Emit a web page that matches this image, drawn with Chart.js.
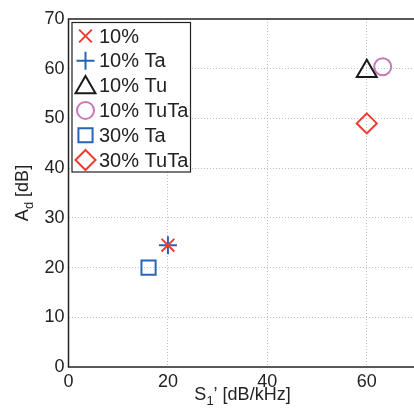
<!DOCTYPE html>
<html>
<head>
<meta charset="utf-8">
<script src="https://cdn.jsdelivr.net/npm/chart.js@4/dist/chart.umd.min.js"></script>
<style>
  html, body { margin: 0; padding: 0; background: #fff; overflow: hidden; }
  #wrap { width: 414px; height: 412px; overflow: hidden; }
</style>
</head>
<body>
<div id="wrap"><canvas id="chart" width="418" height="412"></canvas></div>
<script>
// data
const seriesLabels = ['10%', '10% Ta', '10% Tu', '10% TuTa', '30% Ta', '30% TuTa'];
const xValues = [20, 20, 60, 63.2, 16.1, 60];
const yValues = [24.5, 24.5, 59.5, 60.4, 20, 49];
const xTicks = [0, 20, 40, 60];
const yTicks = [0, 10, 20, 30, 40, 50, 60, 70];

const markerStyles = ['crossRot', 'cross', 'triangle', 'circle', 'rect', 'rectRot'];
const markerColors = ['#ee3b2e', '#2b64b4', '#1a1a1a', '#c77ab9', '#2b64b4', '#ee3b2e'];
const markerSizes = [9, 9, 11.5, 8.5, 10, 10];

const FONT = 'Liberation Sans, Arial, Helvetica, sans-serif';

const datasets = seriesLabels.map((lbl, i) => ({
  label: lbl,
  data: [{ x: xValues[i], y: yValues[i] }],
  pointStyle: markerStyles[i],
  pointRadius: markerSizes[i],
  pointHoverRadius: markerSizes[i],
  pointBorderColor: markerColors[i],
  pointBackgroundColor: 'rgba(0,0,0,0)',
  pointBorderWidth: 2,
  showLine: false
}));

// frame, axis titles and the legend box
const decor = {
  id: 'decor',
  afterDraw(chart) {
    const ctx = chart.ctx;
    const a = chart.chartArea;
    ctx.save();
    ctx.strokeStyle = '#222';
    ctx.lineWidth = 1.5;
    ctx.strokeRect(a.left, a.top, a.right - a.left, a.bottom - a.top);

    ctx.fillStyle = '#222';
    // x title: S_1' [dB/kHz]
    ctx.textBaseline = 'alphabetic';
    const s1 = 'S', sub1 = '1', s2 = '\u2019 [dB/kHz]';
    ctx.font = '18px ' + FONT;
    const w1 = ctx.measureText(s1).width, w3 = ctx.measureText(s2).width;
    ctx.font = '13px ' + FONT;
    const w2 = ctx.measureText(sub1).width;
    let x0 = (a.left + a.right) / 2 - (w1 + w2 + w3) / 2;
    const by = 400;
    ctx.font = '18px ' + FONT;
    ctx.fillText(s1, x0, by);
    ctx.font = '13px ' + FONT;
    ctx.fillText(sub1, x0 + w1, by + 5);
    ctx.font = '18px ' + FONT;
    ctx.fillText(s2, x0 + w1 + w2, by);

    // y title: A_d [dB]
    ctx.save();
    ctx.translate(28, (a.top + a.bottom) / 2);
    ctx.rotate(-Math.PI / 2);
    const t1 = 'A', tsub = 'd', t2 = ' [dB]';
    ctx.font = '18px ' + FONT;
    const u1 = ctx.measureText(t1).width, u3 = ctx.measureText(t2).width;
    ctx.font = '13px ' + FONT;
    const u2 = ctx.measureText(tsub).width;
    let y0 = -(u1 + u2 + u3) / 2;
    ctx.font = '18px ' + FONT;
    ctx.fillText(t1, y0, 0);
    ctx.font = '13px ' + FONT;
    ctx.fillText(tsub, y0 + u1, 5);
    ctx.font = '18px ' + FONT;
    ctx.fillText(t2, y0 + u1 + u2, 0);
    ctx.restore();

    // legend
    const lx = 72, ly = 22.5, lw = 118.5, lh = 149.5;
    ctx.fillStyle = '#fff';
    ctx.fillRect(lx, ly, lw, lh);
    ctx.strokeStyle = '#222';
    ctx.lineWidth = 1.2;
    ctx.strokeRect(lx, ly, lw, lh);
    ctx.font = '20px ' + FONT;
    ctx.textBaseline = 'middle';
    chart.data.datasets.forEach((ds, i) => {
      const cy = 36 + i * 24.8;
      ctx.strokeStyle = markerColors[i];
      ctx.fillStyle = 'rgba(0,0,0,0)';
      ctx.lineWidth = 2;
      Chart.helpers.drawPoint(ctx, {
        pointStyle: markerStyles[i],
        radius: markerSizes[i],
        rotation: 0,
        borderWidth: 2
      }, 85.5, cy + (markerStyles[i] === 'triangle' ? 2 : 0));
      ctx.fillStyle = '#222';
      ctx.fillText(ds.label, 99, cy + 1);
    });
    ctx.restore();
  }
};

const gridColor = ctx => (ctx.tick && (ctx.tick.value === 0 || ctx.tick.value === 70)) ? 'rgba(0,0,0,0)' : '#bdbdbd';

new Chart(document.getElementById('chart'), {
  type: 'scatter',
  data: { datasets: datasets },
  options: {
    responsive: false,
    animation: false,
    devicePixelRatio: 1,
    layout: { autoPadding: false, padding: { top: 19, right: 1.5, left: 0, bottom: 0 } },
    plugins: { legend: { display: false }, tooltip: { enabled: false } },
    scales: {
      x: {
        type: 'linear',
        min: 0, max: 70,
        afterBuildTicks: s => { s.ticks = xTicks.map(v => ({ value: v })); },
        afterFit: s => { s.height = 45; s.paddingLeft = 0; s.paddingRight = 0; },
        border: { display: false, dash: [1, 2] },
        grid: { color: gridColor, lineWidth: 1, drawTicks: false },
        ticks: { padding: 4, color: '#222', font: { family: FONT, size: 18 } }
      },
      y: {
        type: 'linear',
        min: 0, max: 70,
        afterBuildTicks: s => { s.ticks = yTicks.map(v => ({ value: v })); },
        afterFit: s => { s.width = 68.5; s.paddingTop = 0; s.paddingBottom = 0; },
        border: { display: false, dash: [1, 2] },
        grid: { color: gridColor, lineWidth: 1, drawTicks: false },
        ticks: { padding: 4, color: '#222', font: { family: FONT, size: 18 } }
      }
    }
  },
  plugins: [decor]
});
</script>
</body>
</html>
